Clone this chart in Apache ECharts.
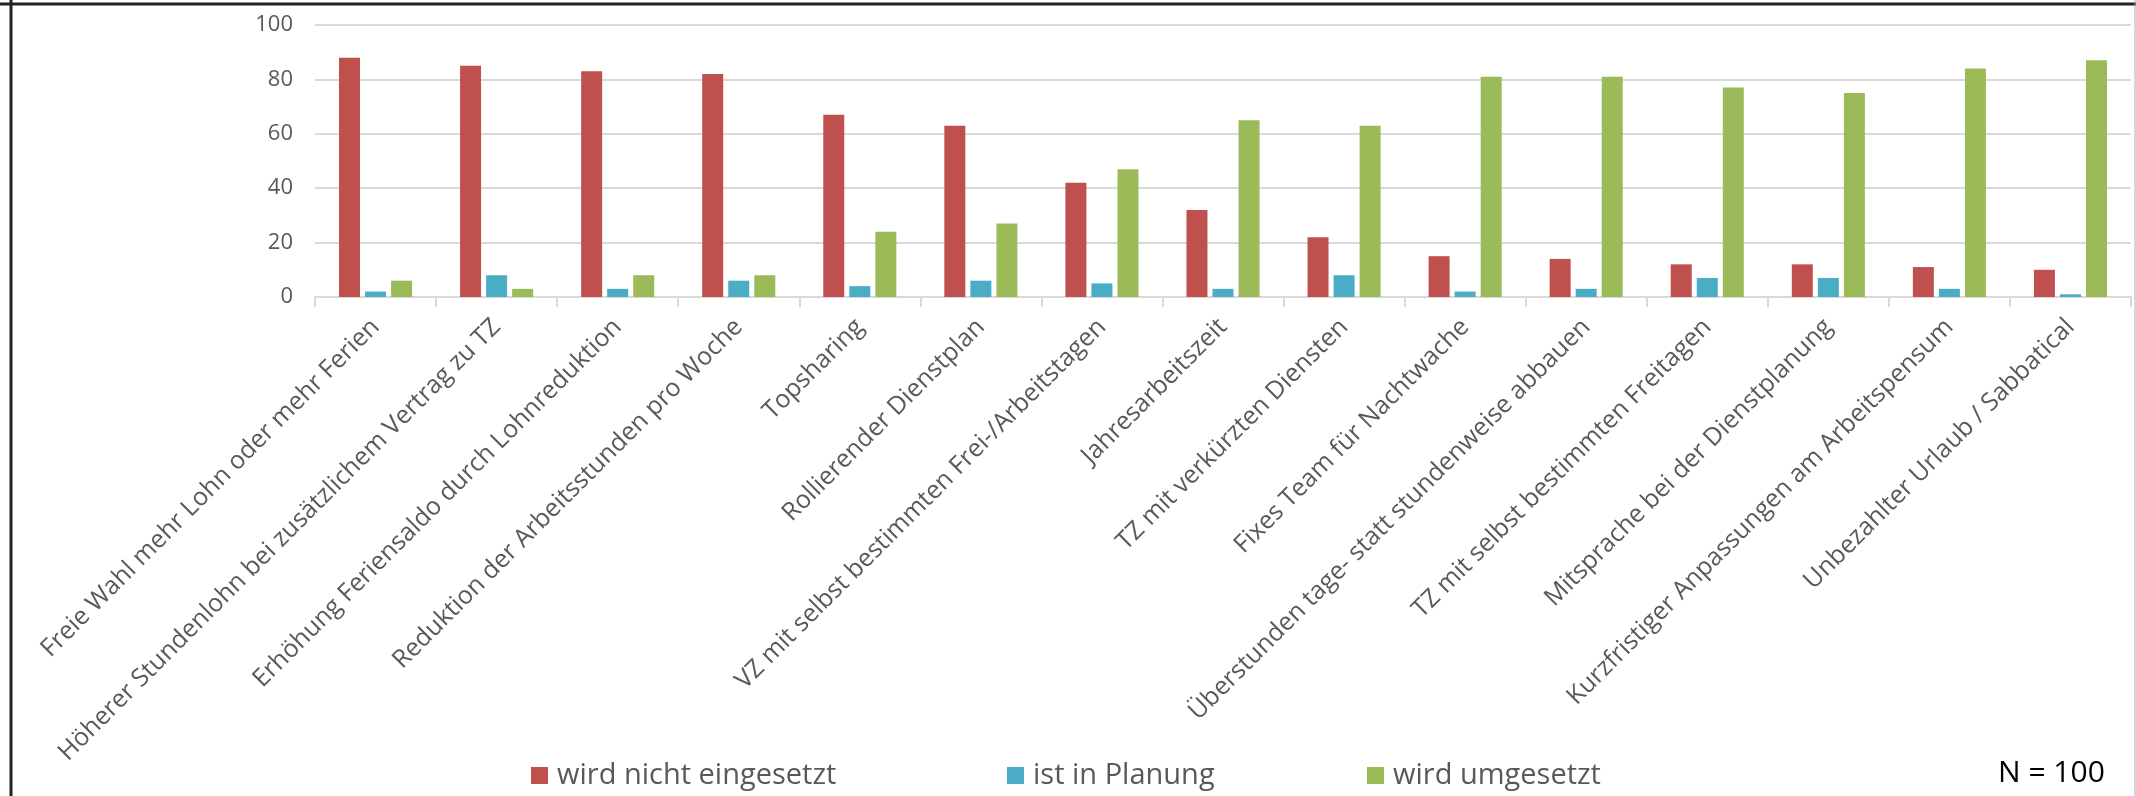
<!DOCTYPE html>
<html>
<head>
<meta charset="utf-8">
<style>
  html, body { margin: 0; padding: 0; background: #fff; }
  #chart { width: 2136px; height: 796px; }
</style>
<script src="https://cdn.jsdelivr.net/npm/echarts@6/dist/echarts.min.js"></script>
</head>
<body>
<div id="chart"></div>
<script>
// Massnahmen - Umsetzung (N = 100)
var categories = [
    'Freie Wahl mehr Lohn oder mehr Ferien',
    'Höherer Stundenlohn bei zusätzlichem Vertrag zu TZ',
    'Erhöhung Feriensaldo durch Lohnreduktion',
    'Reduktion der Arbeitsstunden pro Woche',
    'Topsharing',
    'Rollierender Dienstplan',
    'VZ mit selbst bestimmten Frei-/Arbeitstagen',
    'Jahresarbeitszeit',
    'TZ mit verkürzten Diensten',
    'Fixes Team für Nachtwache',
    'Überstunden tage- statt stundenweise abbauen',
    'TZ mit selbst bestimmten Freitagen',
    'Mitsprache bei der Dienstplanung',
    'Kurzfristiger Anpassungen am Arbeitspensum',
    'Unbezahlter Urlaub / Sabbatical'
];
var nichtEingesetzt = [88, 85, 83, 82, 67, 63, 42, 32, 22, 15, 14, 12, 12, 11, 10];
var inPlanung = [2, 8, 3, 6, 4, 6, 5, 3, 8, 2, 3, 7, 7, 3, 1];
var umgesetzt = [6, 3, 8, 8, 24, 27, 47, 65, 63, 81, 81, 77, 75, 84, 87];
var seriesNames = ['wird nicht eingesetzt', 'ist in Planung', 'wird umgesetzt'];
var yTicks = [0, 20, 40, 60, 80, 100];

var font = '"Open Sans", sans-serif';
var gray = '#595959';

function legendAt(name, left) {
    return {
        data: [name],
        left: left,
        top: 756,
        icon: 'rect',
        itemWidth: 17,
        itemHeight: 17,
        itemGap: 0,
        textStyle: {
            fontFamily: font,
            fontSize: 29,
            color: gray,
            padding: [0, 0, 0, 4]
        }
    };
}

var chart = echarts.init(document.getElementById('chart'));
chart.setOption({
    animation: false,
    color: ['#C0504D', '#4BACC6', '#9BBB59'],
    legend: [
        legendAt(seriesNames[0], 526),
        legendAt(seriesNames[1], 1002),
        legendAt(seriesNames[2], 1362)
    ],
    grid: {
        left: 315,
        right: 5,
        top: 25,
        bottom: 499,
        containLabel: false
    },
    xAxis: [{
        type: 'category',
        data: categories,
        axisLine: { show: true, lineStyle: { color: '#d9d9d9', width: 2 } },
        axisTick: { show: true, length: 10, lineStyle: { color: '#d9d9d9', width: 2 } },
        axisLabel: {
            interval: 0,
            rotate: 45,
            margin: 26,
            fontFamily: font,
            fontSize: 25,
            color: gray
        }
    }],
    yAxis: [{
        type: 'value',
        min: yTicks[0],
        max: yTicks[yTicks.length - 1],
        interval: 20,
        axisLine: { show: false },
        axisTick: { show: false },
        axisLabel: {
            margin: 22,
            fontFamily: font,
            fontSize: 22,
            color: gray
        },
        splitLine: { show: true, lineStyle: { color: '#d9d9d9', width: 2 } }
    }],
    series: [{
        name: seriesNames[0],
        type: 'bar',
        data: nichtEingesetzt,
        barWidth: 21,
        barGap: '24%'
    }, {
        name: seriesNames[1],
        type: 'bar',
        data: inPlanung,
        barWidth: 21,
        barGap: '24%'
    }, {
        name: seriesNames[2],
        type: 'bar',
        data: umgesetzt,
        barWidth: 21,
        barGap: '24%'
    }],
    graphic: [{
        type: 'text',
        left: 1998,
        top: 758,
        style: {
            text: 'N = 100',
            fontFamily: font,
            fontSize: 30,
            fill: '#000'
        }
    }, {
        type: 'line',
        shape: { x1: 11, y1: 0, x2: 11, y2: 796 },
        style: { stroke: '#222', lineWidth: 3 }
    }, {
        type: 'line',
        shape: { x1: 0, y1: 4, x2: 2136, y2: 4 },
        style: { stroke: '#222', lineWidth: 3 }
    }, {
        type: 'line',
        shape: { x1: 2135, y1: 0, x2: 2135, y2: 796 },
        style: { stroke: '#aaa', lineWidth: 1 }
    }]
});
</script>
</body>
</html>
